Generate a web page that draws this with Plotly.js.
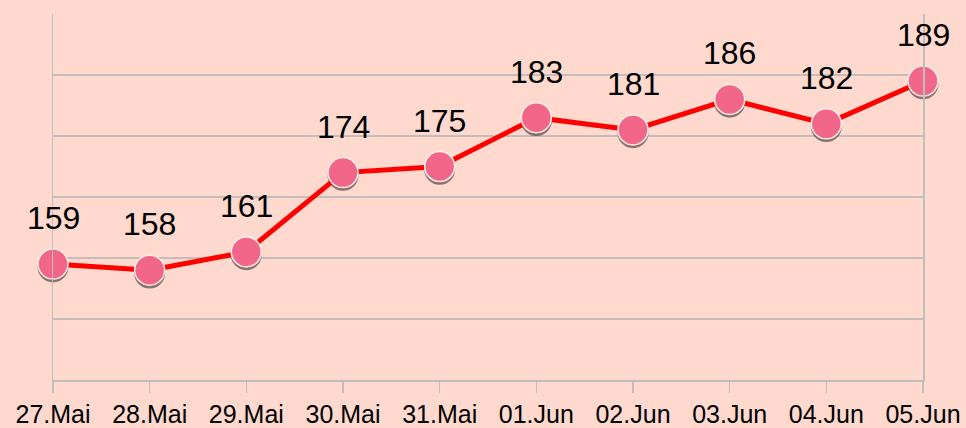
<!DOCTYPE html>
<html>
<head>
<meta charset="utf-8">
<script src="https://cdn.plot.ly/plotly-3.0.1.min.js"></script>
<style>
html,body{margin:0;padding:0;background:#FFD9CD;}
#chart{width:966px;height:428px;}
</style>
</head>
<body>
<div id="chart"></div>
<script>
const categories = ["27.Mai","28.Mai","29.Mai","30.Mai","31.Mai","01.Jun","02.Jun","03.Jun","04.Jun","05.Jun"];
const values = [159,158,161,174,175,183,181,186,182,189];

const bg = "#FFD9CD";
const font = "Liberation Sans, Arial, sans-serif";

// invisible trace so the main (visible) axes know the categories
const base = {
  x: categories, y: values, type: "scatter", mode: "markers",
  marker: {size: 1, opacity: 0}, hoverinfo: "skip"
};

const shadow = {
  x: categories, y: values, type: "scatter", mode: "markers",
  xaxis: "x2", yaxis: "y2",
  marker: {size: 31, color: "rgba(60,45,45,0.6)"},
  cliponaxis: false, hoverinfo: "skip"
};

const trace = {
  x: categories,
  y: values,
  xaxis: "x3", yaxis: "y3",
  type: "scatter",
  mode: "lines+markers",
  line: {color: "#FF0000", width: 5},
  marker: {size: 30, color: "#F2668A", line: {color: "#FBEDEA", width: 1.5}},
  cliponaxis: false,
  hoverinfo: "skip"
};

const annotations = categories.map((c, i) => ({
  x: c, y: values[i], xref: "x", yref: "y",
  text: String(values[i]), showarrow: false,
  yanchor: "middle", xanchor: "center", yshift: 46,
  font: {family: font, size: 32, color: "#000"}
}));

const n = categories.length - 1;
const layout = {
  width: 966, height: 428,
  paper_bgcolor: bg, plot_bgcolor: bg,
  margin: {l: 53, r: 43, t: 14, b: 48},
  showlegend: false,
  annotations: annotations,
  xaxis: {
    type: "category",
    range: [0, n],
    showgrid: false,
    showline: true, linecolor: "#BEBEBE", linewidth: 1.5,
    ticks: "outside", ticklen: 11, tickcolor: "#BEBEBE", tickwidth: 1.5,
    tickfont: {family: font, size: 25, color: "#000"},
    zeroline: false, fixedrange: true
  },
  yaxis: {
    range: [140, 200],
    dtick: 10, tick0: 140,
    showgrid: true, gridcolor: "#C4BDBA", gridwidth: 1.3,
    showline: true, linecolor: "#BEBEBE", linewidth: 1.5, mirror: true,
    showticklabels: false, ticks: "",
    zeroline: false, fixedrange: true
  },
  xaxis2: {type: "category", overlaying: "x", range: [0, n], visible: false, fixedrange: true},
  yaxis2: {overlaying: "y", range: [140.45, 200.45], visible: false, fixedrange: true},
  xaxis3: {type: "category", overlaying: "x", range: [0, n], visible: false, fixedrange: true},
  yaxis3: {overlaying: "y", range: [140, 200], visible: false, fixedrange: true}
};

Plotly.newPlot("chart", [base, shadow, trace], layout, {displayModeBar: false, staticPlot: true});
</script>
</body>
</html>
